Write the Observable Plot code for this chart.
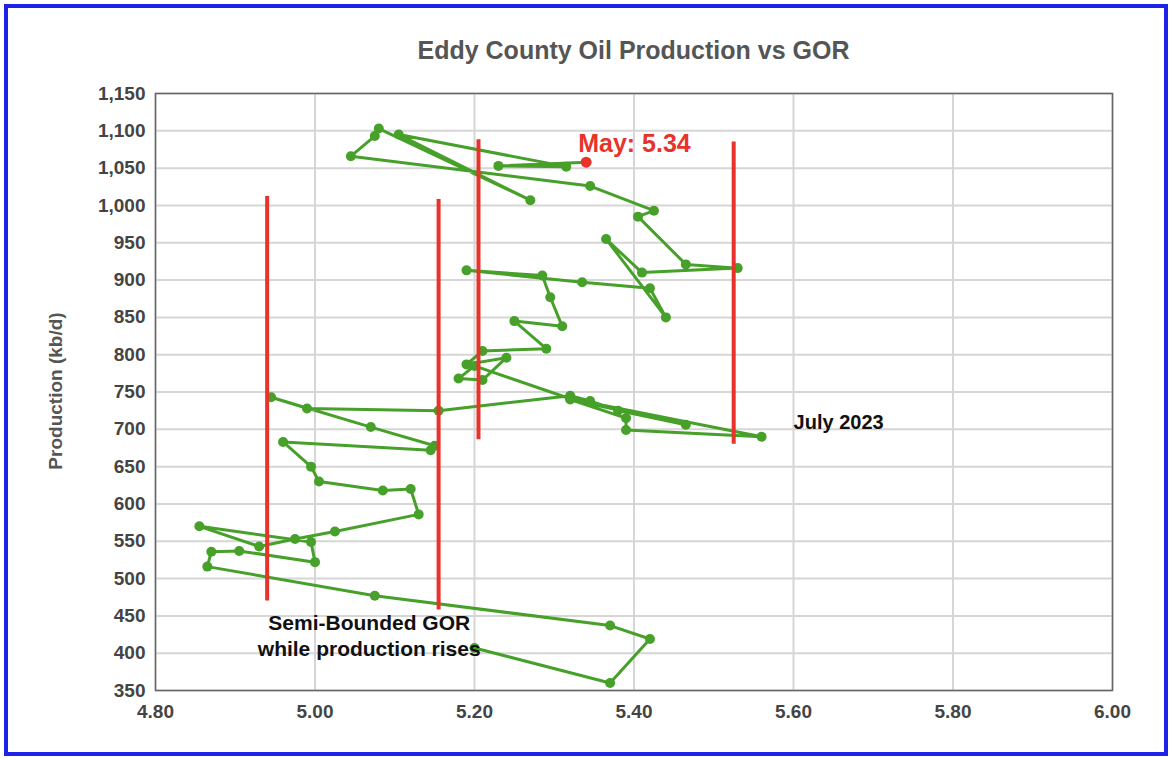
<!DOCTYPE html>
<html><head><meta charset="utf-8">
<script src="https://cdn.jsdelivr.net/npm/d3@7"></script>
<script src="https://cdn.jsdelivr.net/npm/@observablehq/plot@0.6"></script>
<style>
body{margin:0;background:#fff;font-family:Arial,"Liberation Sans",sans-serif}
#wrap{position:relative;width:1172px;height:760px}
#border{position:absolute;left:4px;top:4px;width:1156px;height:744px;border:4px solid #1e22e6}
#title{position:absolute;left:155px;width:957px;top:36px;text-align:center;font-size:25px;font-weight:bold;color:#555}
#ylab{position:absolute;left:56px;top:391px;transform:translate(-50%,-50%) rotate(-90deg);font-size:19px;font-weight:bold;color:#555;white-space:nowrap}
#chart{position:absolute;left:0;top:0}
</style></head><body>
<div id="wrap"><div id="chart"></div><div id="border"></div><div id="title">Eddy County Oil Production vs GOR</div><div id="ylab">Production (kb/d)</div></div>
<script>
const gor = [5.20,5.37,5.42,5.37,5.075,4.865,4.87,4.905,5.00,4.995,4.855,4.93,4.975,5.025,5.13,5.12,5.085,5.005,4.995,4.96,5.145,5.15,5.07,4.945,4.99,5.155,5.32,5.345,5.38,5.465,5.32,5.39,5.39,5.56,5.32,5.20,5.18,5.21,5.24,5.19,5.21,5.29,5.25,5.31,5.295,5.285,5.19,5.335,5.42,5.44,5.365,5.41,5.53,5.465,5.405,5.425,5.345,5.045,5.075,5.08,5.27,5.105,5.315,5.23,5.34];
const prod = [407,360,419,437,477,516,536,537,522,549,570,543,553,563,586,620,618,630,650,683,672,678,703,743,728,725,745,738,725,706,740,715,699,690,741,785,768,766,796,787,805,808,845,838,877,906,913,897,889,850,955,910,916,921,985,993,1026,1066,1093,1103,1007,1095,1052,1053,1058];
const redX = [4.94,5.155,5.205,5.525];
const redTop = [1012,1008,1088,1085];
const redBottom = [470,458,686,680];
const yTicks = [350,400,450,500,550,600,650,700,750,800,850,900,950,1000,1050,1100,1150];
const xTicks = [4.8,5.0,5.2,5.4,5.6,5.8,6.0];

const pts = gor.map((g,i)=>({g,p:prod[i]}));
const reds = redX.map((x,i)=>({x,y1:redBottom[i],y2:redTop[i]}));
const last = pts[pts.length-1];
const green = "#46a02a";
const chart = Plot.plot({
  width:1172,height:760,
  marginLeft:155,marginRight:60,marginTop:93,marginBottom:70,
  style:{fontFamily:"Arial, 'Liberation Sans', sans-serif",fontSize:"19px",fontWeight:"bold",color:"#444"},
  x:{domain:[4.8,6.0],ticks:xTicks,tickFormat:d3.format(".2f"),tickSize:0,tickPadding:14,label:null},
  y:{domain:[350,1150],ticks:yTicks,tickFormat:d3.format(","),tickSize:0,tickPadding:10,label:null},
  marks:[
    Plot.gridX(xTicks,{stroke:"#d6d6d6",strokeOpacity:1,strokeWidth:2}),
    Plot.gridY(yTicks,{stroke:"#d6d6d6",strokeOpacity:1,strokeWidth:2}),
    Plot.frame({stroke:"#666",strokeWidth:1.5}),
    Plot.line(pts,{x:"g",y:"p",stroke:green,strokeWidth:3,curve:"linear"}),
    Plot.dot(pts.slice(0,-1),{x:"g",y:"p",r:5,fill:green}),
    Plot.dot([last],{x:"g",y:"p",r:5.5,fill:"#e8332a"}),
    Plot.ruleX(reds,{x:"x",y1:"y1",y2:"y2",stroke:"#e8332a",strokeWidth:4}),
    Plot.text([last],{x:"g",y:"p",text:()=>"May: 5.34",fill:"#e8332a",fontSize:25,fontWeight:"bold",dx:-8,dy:-18,textAnchor:"start"}),
    Plot.text([{g:5.565,p:709}],{x:"g",y:"p",text:()=>"July 2023",fill:"#111",fontSize:20,fontWeight:"bold",dx:28,textAnchor:"start"}),
    Plot.text([{g:5.068,p:425}],{x:"g",y:"p",text:()=>"Semi-Bounded GOR\nwhile production rises",fill:"#111",fontSize:21,fontWeight:"bold",lineHeight:1.25,textAnchor:"middle"})
  ]
});
document.getElementById("chart").append(chart);
</script></body></html>
